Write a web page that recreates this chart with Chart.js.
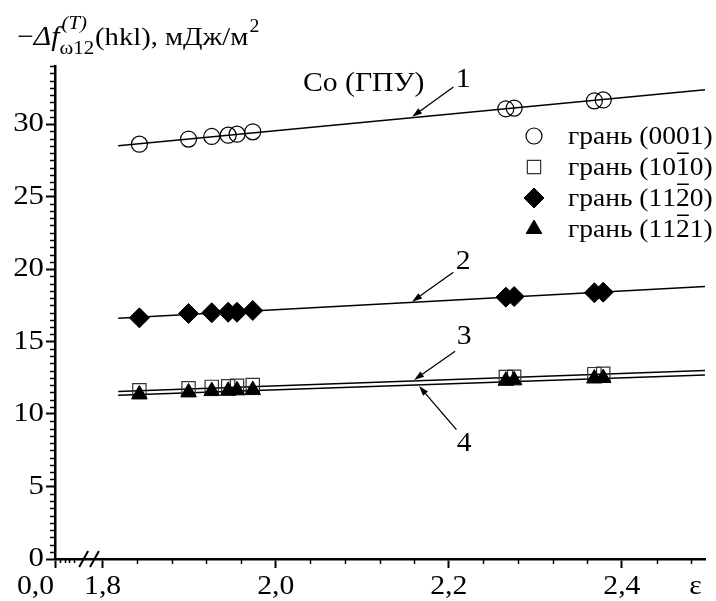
<!DOCTYPE html>
<html>
<head>
<meta charset="utf-8">
<script src="https://cdn.jsdelivr.net/npm/chart.js@4/dist/chart.umd.min.js"></script>
<style>
  html, body { margin: 0; padding: 0; background: #fff; }
  #c { display: block; }
</style>
</head>
<body>
<canvas id="c" width="716" height="601"></canvas>
<script>
// ---------------- data ----------------
const epsilon   = [1.8425, 1.8993, 1.9261, 1.9451, 1.9553, 1.9735, 2.2659, 2.2755, 2.3682, 2.3784];
const face0001  = [28.61, 28.96, 29.14, 29.23, 29.30, 29.46, 31.05, 31.10, 31.60, 31.66];
const face1010  = [11.63, 11.77, 11.87, 11.91, 11.94, 12.00, 12.55, 12.57, 12.75, 12.77];
const face1120  = [16.63, 16.93, 16.98, 17.02, 17.02, 17.14, 18.06, 18.10, 18.36, 18.40];
const face1121  = [11.35, 11.49, 11.58, 11.60, 11.63, 11.65, 12.29, 12.32, 12.45, 12.48];

// fitted straight lines (end points)
const fitEps  = [1.818, 2.5];
const fit1    = [28.50, 32.38];
const fit2    = [16.60, 18.80];
const fit3    = [11.55, 13.01];
const fit4    = [11.30, 12.69];

const seriesNames = ['грань (0001)', 'грань (101\u03050)', 'грань (112\u03050)', 'грань (112\u03051)'];

// axis ticks
const xTickValues = [1.8, 2.0, 2.2, 2.4];
const xTickLabels = ['1,8', '2,0', '2,2', '2,4'];
const yTickValues = [0, 5, 10, 15, 20, 25, 30];
const yTickLabels = ['0', '5', '10', '15', '20', '25', '30'];
const xBreakLabel = '0,0';
const xAxisName   = 'ε';
const xAxisNameAt = 2.485;
const xBreakMarks = [1.7781, 1.7906];

// annotations
const plotCaption     = 'Co (ГПУ)';
const plotCaptionAt   = [2.0315, 32.27];
const lineNumbers     = ['1', '2', '3', '4'];
const lineNumberEps   = [2.2167, 2.2167, 2.2178, 2.2178];
const lineNumberVal   = [33.03, 20.46, 15.34, 7.95];
const arrowTailEps    = [2.2053, 2.2053, 2.2073, 2.2088];
const arrowTailVal    = [32.55, 19.77, 14.33, 8.92];
const arrowTipEps     = [2.1576, 2.1576, 2.1599, 2.1656];
const arrowTipVal     = [30.50, 17.75, 12.35, 11.93];

// y-axis title pieces: −Δf^(T)_ω12(hkl), мДж/м²
const yTitleMinus = '−';
const yTitleSym   = 'Δf';
const yTitleSup   = '(T)';
const yTitleSub   = 'ω12';
const yTitleRest  = '(hkl), мДж/м';
const yTitleExp   = '2';

// ---------------- chart ----------------
const FONT = '"Liberation Serif", "Times New Roman", serif';
const SX = 1.1;   // the reference type is slightly wide
Chart.defaults.font.family = FONT;
Chart.defaults.color = '#000';

const canvas = document.getElementById('c');
const c2d = canvas.getContext('2d');
const origFillText = c2d.fillText;
c2d.fillText = function (t, x, y, mw) {
  this.save();
  this.translate(x, y);
  this.scale(SX, 1);
  if (mw === undefined) origFillText.call(this, t, 0, 0);
  else origFillText.call(this, t, 0, 0, mw / SX);
  this.restore();
};

const pts = ys => epsilon.map((e, i) => ({ x: e, y: ys[i] }));
const fitPts = ys => fitEps.map((e, i) => ({ x: e, y: ys[i] }));

const markerStyles = [
  { pointStyle: 'circle',   radius: 8,   fill: 'rgba(0,0,0,0)', stroke: '#000', bw: 1.2 },
  { pointStyle: 'rect',     radius: 9.4, fill: 'rgba(0,0,0,0)', stroke: '#333', bw: 1.2 },
  { pointStyle: 'rectRot',  radius: 10,  fill: '#000',          stroke: '#000', bw: 1 },
  { pointStyle: 'triangle', radius: 9,   fill: '#000',          stroke: '#000', bw: 1 }
];

function scatterSet(name, ys, st) {
  return {
    label: name, data: pts(ys), showLine: false,
    pointStyle: st.pointStyle, pointRadius: st.radius, pointHoverRadius: st.radius,
    pointBackgroundColor: st.fill, pointBorderColor: st.stroke, pointBorderWidth: st.bw
  };
}
function fitSet(ys) {
  return {
    label: '', data: fitPts(ys), showLine: true, pointRadius: 0,
    borderColor: '#000', borderWidth: 1.5, fill: false
  };
}

function txt(ctx, s, x, y, size, o) {
  o = o || {};
  ctx.font = (o.italic ? 'italic ' : '') + size + 'px ' + FONT;
  ctx.textAlign = o.align || 'left';
  ctx.textBaseline = o.baseline || 'alphabetic';
  ctx.fillStyle = '#000';
  ctx.fillText(s, x, y);
  return ctx.measureText(s).width * SX;
}
function drawOverlined(ctx, s, x, y, size) {
  ctx.font = size + 'px ' + FONT;
  ctx.textAlign = 'left'; ctx.textBaseline = 'alphabetic'; ctx.fillStyle = '#000';
  let cx = x;
  for (let i = 0; i < s.length; i++) {
    const ch = s[i];
    if (ch === '\u0305') continue;
    const w = ctx.measureText(ch).width * SX;
    ctx.fillText(ch, cx, y);
    if (s[i + 1] === '\u0305') ctx.fillRect(cx + 1, y - size * 0.9, w - 2, 1.5);
    cx += w;
  }
}
function seg(ctx, x1, y1, x2, y2) {
  ctx.beginPath(); ctx.moveTo(x1, y1); ctx.lineTo(x2, y2); ctx.stroke();
}

const TICK_LEN = 9, X_PAD = 3, X_FONT = 27;

const decor = {
  id: 'decor',
  afterDraw(chart) {
    const ctx = chart.ctx, xs = chart.scales.x, ys = chart.scales.y;
    ctx.save();
    ctx.strokeStyle = '#000';
    ctx.lineCap = 'butt';

    // minor ticks, y axis (every 0.5)
    ctx.lineWidth = 1.5;
    const ax = ys.right;
    for (let k = 1; k * 0.5 <= ys.max + 1e-9; k++) {
      if (k % 10 === 0) continue;
      const py = Math.round(ys.getPixelForValue(k * 0.5)) + 0.5;
      seg(ctx, ax - 5, py, ax, py);
    }
    // minor ticks, x axis (every 0.04)
    const ay = xs.top;
    for (let k = 46; k * 0.04 <= xs.max + 1e-9; k++) {
      if (k % 5 === 0) continue;
      const px = Math.round(xs.getPixelForValue(k * 0.04)) + 0.5;
      seg(ctx, px, ay, px, ay + 5);
    }
    // small ticks of the 0,0 segment before the break
    for (let k = 1; k <= 4; k++) {
      const px = Math.round(xs.getPixelForValue(xs.min + k * 0.0055)) + 0.5;
      seg(ctx, px, ay, px, ay + 4);
    }
    // break marks
    ctx.lineWidth = 2;
    xBreakMarks.forEach(v => {
      const px = xs.getPixelForValue(v);
      seg(ctx, px - 4.5, ay + 8, px + 4.5, ay - 8);
    });

    // x-axis extra labels
    const labY = xs.top + TICK_LEN + X_PAD + X_FONT * 0.6;
    txt(ctx, xBreakLabel, xs.left - 1, labY, X_FONT, { align: 'right', baseline: 'middle' });
    txt(ctx, xAxisName, xs.getPixelForValue(xAxisNameAt), labY, X_FONT, { align: 'center', baseline: 'middle' });

    // caption
    txt(ctx, plotCaption, xs.getPixelForValue(plotCaptionAt[0]), ys.getPixelForValue(plotCaptionAt[1]), 27);

    // line numbers + arrows
    ctx.lineWidth = 1.3;
    lineNumbers.forEach((n, i) => {
      txt(ctx, n, xs.getPixelForValue(lineNumberEps[i]), ys.getPixelForValue(lineNumberVal[i]), 27,
          { align: 'center', baseline: 'middle' });
      const x1 = xs.getPixelForValue(arrowTailEps[i]), y1 = ys.getPixelForValue(arrowTailVal[i]);
      const x2 = xs.getPixelForValue(arrowTipEps[i]),  y2 = ys.getPixelForValue(arrowTipVal[i]);
      const ang = Math.atan2(y2 - y1, x2 - x1);
      const hl = 10, hw = 3.2;
      const bx = x2 - hl * Math.cos(ang), by = y2 - hl * Math.sin(ang);
      seg(ctx, x1, y1, bx, by);
      ctx.beginPath();
      ctx.moveTo(x2, y2);
      ctx.lineTo(bx + hw * Math.sin(ang), by - hw * Math.cos(ang));
      ctx.lineTo(bx - hw * Math.sin(ang), by + hw * Math.cos(ang));
      ctx.closePath();
      ctx.fillStyle = '#000';
      ctx.fill();
    });

    // legend
    const lgX = chart.chartArea.right - 171, lgTX = chart.chartArea.right - 137;
    const lgY0 = 136, lgDY = 31;
    seriesNames.forEach((name, i) => {
      const st = markerStyles[i];
      const cy = lgY0 + i * lgDY;
      ctx.fillStyle = st.fill; ctx.strokeStyle = st.stroke; ctx.lineWidth = st.bw;
      Chart.helpers.drawPoint(ctx, { pointStyle: st.pointStyle, radius: st.radius, rotation: 0, borderWidth: st.bw }, lgX, cy);
      drawOverlined(ctx, name, lgTX, cy + 8, 25);
    });

    // y-axis title
    let x = 17; const base = 45;
    x += txt(ctx, yTitleMinus, x, base, 27);
    x += txt(ctx, yTitleSym, x, base, 27, { italic: true });
    const wSup = txt(ctx, yTitleSup, x + 2, base - 16, 19, { italic: true });
    const wSub = txt(ctx, yTitleSub, x, base + 9, 19);
    x += Math.max(wSup + 2, wSub) + 1;
    x += txt(ctx, yTitleRest, x, base, 26);
    txt(ctx, yTitleExp, x + 1, base - 13, 18);

    ctx.restore();
  }
};

new Chart(canvas, {
  type: 'scatter',
  data: {
    datasets: [
      scatterSet(seriesNames[3], face1121, markerStyles[3]),
      scatterSet(seriesNames[2], face1120, markerStyles[2]),
      scatterSet(seriesNames[1], face1010, markerStyles[1]),
      scatterSet(seriesNames[0], face0001, markerStyles[0]),
      fitSet(fit1), fitSet(fit2), fitSet(fit3), fitSet(fit4)
    ]
  },
  options: {
    responsive: false,
    animation: false,
    events: [],
    layout: { padding: { top: 66, right: 0, left: 0, bottom: 0 } },
    plugins: { legend: { display: false }, tooltip: { enabled: false }, title: { display: false } },
    scales: {
      x: {
        type: 'linear', position: 'bottom', min: 1.745, max: 2.496,
        afterBuildTicks: s => { s.ticks = [{ value: 1.745 }].concat(xTickValues.map(v => ({ value: v }))); },
        afterFit: s => { s.height = 42; },
        ticks: {
          autoSkip: false, maxRotation: 0, padding: X_PAD, color: '#000',
          font: { family: FONT, size: X_FONT },
          callback: v => { const i = xTickValues.indexOf(v); return i < 0 ? '' : xTickLabels[i]; }
        },
        grid: { drawOnChartArea: false, drawTicks: true, tickLength: TICK_LEN, tickWidth: 2, tickColor: '#000' },
        border: { display: true, color: '#000', width: 2.5 }
      },
      y: {
        type: 'linear', position: 'left', min: 0, max: 34,
        afterBuildTicks: s => { s.ticks = yTickValues.map(v => ({ value: v })); },
        afterFit: s => { s.width = 55; },
        ticks: {
          autoSkip: false, padding: 2, color: '#000',
          font: { family: FONT, size: 28 },
          callback: v => { const i = yTickValues.indexOf(v); return i < 0 ? '' : yTickLabels[i]; }
        },
        grid: { drawOnChartArea: false, drawTicks: true, tickLength: TICK_LEN, tickWidth: 2, tickColor: '#000' },
        border: { display: true, color: '#000', width: 2.5 }
      }
    }
  },
  plugins: [decor]
});
</script>
</body>
</html>
